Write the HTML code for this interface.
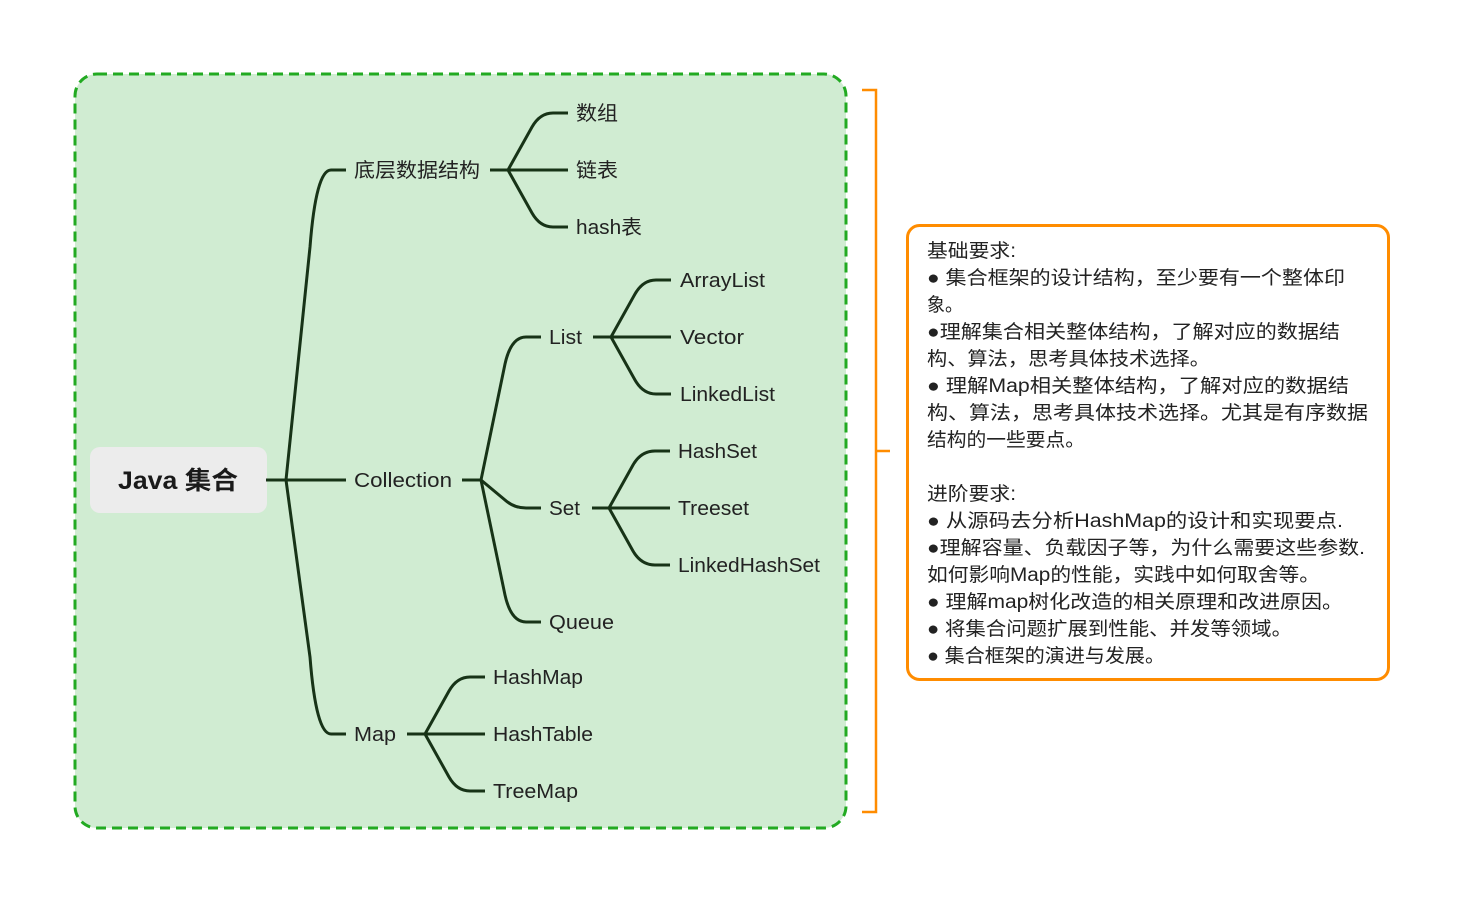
<!DOCTYPE html>
<html><head><meta charset="utf-8"><style>
html,body{margin:0;padding:0;background:#fff;}
svg text{font-family:"Liberation Sans","Noto Sans CJK SC",sans-serif;fill:#222;}
</style></head><body>
<svg width="1464" height="903" viewBox="0 0 1464 903" xmlns="http://www.w3.org/2000/svg">
<rect x="75" y="74" width="771" height="754" rx="22" fill="#d0ecd2" stroke="#22aa22" stroke-width="3" stroke-dasharray="10,6"/>
<path d="M862,90 H876 V812 H862 M876,451 H890" fill="none" stroke="#ff8c00" stroke-width="2.5"/>
<rect x="907.5" y="225.5" width="481" height="454" rx="12" fill="#fff" stroke="#ff8c00" stroke-width="3"/>
<rect x="90" y="447" width="177" height="66" rx="10" fill="#ececec"/>
<text x="118" y="489" font-size="25" font-weight="bold" textLength="120" lengthAdjust="spacingAndGlyphs" style="fill:#1a1a1a">Java 集合</text>
<g fill="none" stroke="#173317" stroke-width="3" stroke-linecap="butt">
<path d="M266,480 H346"/>
<path d="M286,480 L310,247 Q316,170 331,170 H346"/>
<path d="M286,480 L310,657 Q316,734 331,734 H346"/>
<path d="M490,170 H568"/>
<path d="M508,170 L532,127 Q540,113 553,113 H568"/>
<path d="M508,170 L532,213 Q540,227 553,227 H568"/>
<path d="M462,480 H481"/>
<path d="M481,480 L505,364 Q511,337 526,337 H541"/>
<path d="M481,480 L505,500 Q514,508 526,508 H541"/>
<path d="M481,480 L505,595 Q511,622 526,622 H541"/>
<path d="M593,337 H671"/>
<path d="M611,337 L635,294 Q643,280 656,280 H671"/>
<path d="M611,337 L635,380 Q643,394 656,394 H671"/>
<path d="M592,508 H670"/>
<path d="M609,508 L633,465 Q641,451 655,451 H670"/>
<path d="M609,508 L633,551 Q641,565 655,565 H670"/>
<path d="M407,734 H485"/>
<path d="M425,734 L449,691 Q457,677 470,677 H485"/>
<path d="M425,734 L449,777 Q457,791 470,791 H485"/>
</g>
<g font-size="20" lengthAdjust="spacingAndGlyphs">
<text x="354" y="177" textLength="126" lengthAdjust="spacingAndGlyphs">底层数据结构</text>
<text x="576" y="120" textLength="42" lengthAdjust="spacingAndGlyphs">数组</text>
<text x="576" y="177" textLength="42" lengthAdjust="spacingAndGlyphs">链表</text>
<text x="576" y="234" textLength="66" lengthAdjust="spacingAndGlyphs">hash表</text>
<text x="354" y="487" textLength="98" lengthAdjust="spacingAndGlyphs">Collection</text>
<text x="549" y="344" textLength="33" lengthAdjust="spacingAndGlyphs">List</text>
<text x="680" y="287" textLength="85" lengthAdjust="spacingAndGlyphs">ArrayList</text>
<text x="680" y="344" textLength="64" lengthAdjust="spacingAndGlyphs">Vector</text>
<text x="680" y="401" textLength="95" lengthAdjust="spacingAndGlyphs">LinkedList</text>
<text x="549" y="515" textLength="31" lengthAdjust="spacingAndGlyphs">Set</text>
<text x="678" y="458" textLength="79" lengthAdjust="spacingAndGlyphs">HashSet</text>
<text x="678" y="515" textLength="71" lengthAdjust="spacingAndGlyphs">Treeset</text>
<text x="678" y="572" textLength="142" lengthAdjust="spacingAndGlyphs">LinkedHashSet</text>
<text x="549" y="629" textLength="65" lengthAdjust="spacingAndGlyphs">Queue</text>
<text x="354" y="741" textLength="42" lengthAdjust="spacingAndGlyphs">Map</text>
<text x="493" y="684" textLength="90" lengthAdjust="spacingAndGlyphs">HashMap</text>
<text x="493" y="741" textLength="100" lengthAdjust="spacingAndGlyphs">HashTable</text>
<text x="493" y="798" textLength="85" lengthAdjust="spacingAndGlyphs">TreeMap</text>
</g>
<g font-size="19">
<text x="927" y="257" textLength="89" lengthAdjust="spacingAndGlyphs">基础要求:</text>
<text x="927" y="284" textLength="418" lengthAdjust="spacingAndGlyphs">● 集合框架的设计结构，至少要有一个整体印</text>
<text x="927" y="311" textLength="36" lengthAdjust="spacingAndGlyphs">象。</text>
<text x="927" y="338" textLength="413" lengthAdjust="spacingAndGlyphs">●理解集合相关整体结构，了解对应的数据结</text>
<text x="927" y="365" textLength="283" lengthAdjust="spacingAndGlyphs">构、算法，思考具体技术选择。</text>
<text x="927" y="392" textLength="422" lengthAdjust="spacingAndGlyphs">● 理解Map相关整体结构，了解对应的数据结</text>
<text x="927" y="419" textLength="441" lengthAdjust="spacingAndGlyphs">构、算法，思考具体技术选择。尤其是有序数据</text>
<text x="927" y="446" textLength="158" lengthAdjust="spacingAndGlyphs">结构的一些要点。</text>
<text x="927" y="500" textLength="89" lengthAdjust="spacingAndGlyphs">进阶要求:</text>
<text x="927" y="527" textLength="416" lengthAdjust="spacingAndGlyphs">● 从源码去分析HashMap的设计和实现要点.</text>
<text x="927" y="554" textLength="438" lengthAdjust="spacingAndGlyphs">●理解容量、负载因子等，为什么需要这些参数.</text>
<text x="927" y="581" textLength="393" lengthAdjust="spacingAndGlyphs">如何影响Map的性能，实践中如何取舍等。</text>
<text x="927" y="608" textLength="416" lengthAdjust="spacingAndGlyphs">● 理解map树化改造的相关原理和改进原因。</text>
<text x="927" y="635" textLength="365" lengthAdjust="spacingAndGlyphs">● 将集合问题扩展到性能、并发等领域。</text>
<text x="927" y="662" textLength="238" lengthAdjust="spacingAndGlyphs">● 集合框架的演进与发展。</text>
</g>
</svg>
</body></html>
